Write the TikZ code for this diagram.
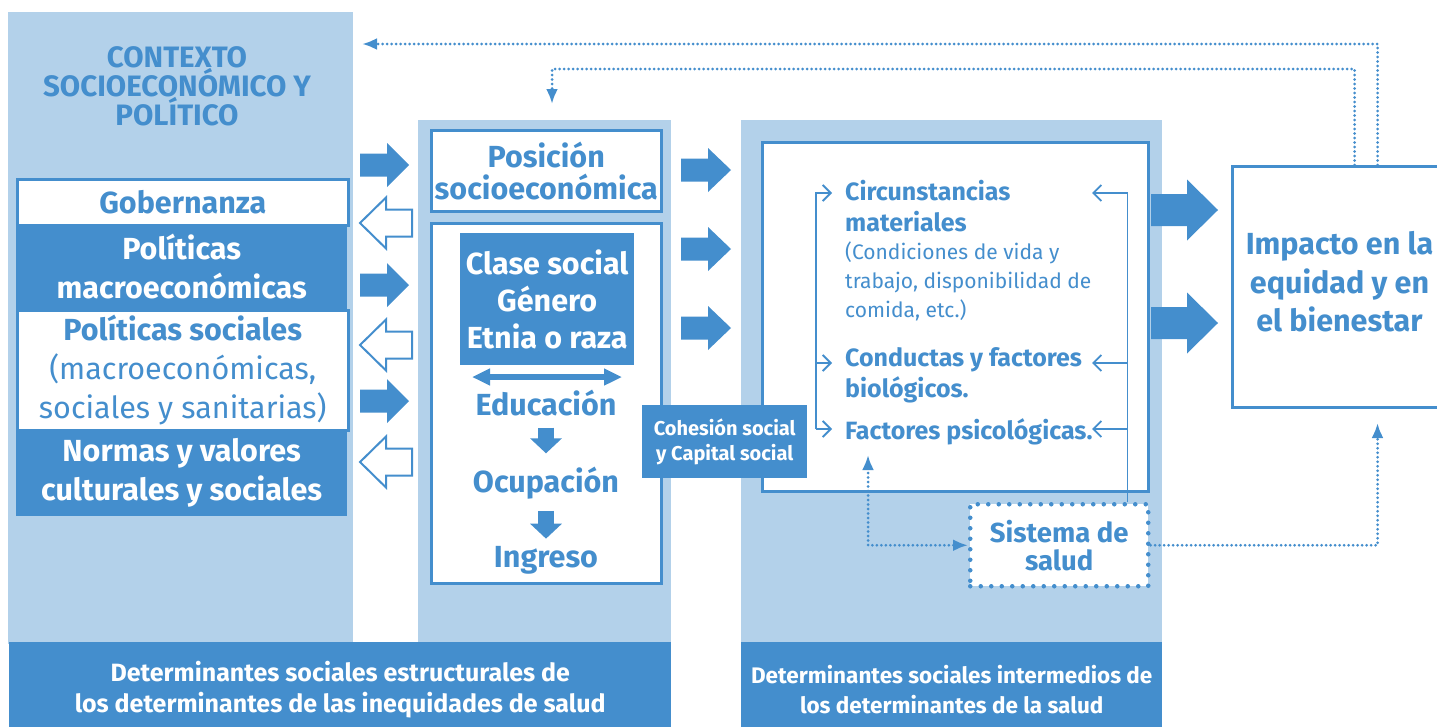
\documentclass[tikz,border=0pt]{standalone}
\usepackage{fontspec}
\setmainfont{Fira Sans}
\usetikzlibrary{arrows.meta}
\definecolor{dsblue}{RGB}{68,142,205}
\definecolor{dslight}{RGB}{179,209,234}
\begin{document}
\begin{tikzpicture}[x=1pt, y=-1pt, >={Latex[length=15pt,width=12pt]},
		panel/.style={fill=dslight, anchor=north west, inner sep=0},
		whitebox/.style={draw=dsblue, line width=2.5pt, fill=white, anchor=north west, inner sep=0},
		darkbox/.style={fill=dsblue, anchor=north west, inner sep=0},
		big/.style={font=\fontsize{30.5}{39}\selectfont\bfseries, text=dsblue, align=center, inner sep=0},
		mid/.style={font=\fontsize{25}{31}\selectfont\bfseries, text=dsblue, align=left, inner sep=0, anchor=north west},
		note/.style={font=\fontsize{21}{29}\selectfont, text=dsblue, align=left, inner sep=0, anchor=north west},
		foot/.style={font=\fontsize{25}{31}\selectfont\bfseries, text=white, align=center},
		fatdown/.style={draw=dsblue, line width=16pt, -{Triangle[length=15pt,width=31pt]}},
		smallarr/.style={draw=dsblue, line width=1.8pt, -{Straight Barb[length=8pt,width=16pt]}},
		dotline/.style={dsblue, line width=3pt, dash pattern=on 0pt off 4.5pt, line cap=round},
		salbox/.style={fill=white, draw=dsblue, line width=4.5pt, dash pattern=on 0pt off 10.5pt, line cap=round, anchor=north west, inner sep=0}]
	\useasboundingbox (0,0) rectangle (1437,726);
	\clip (0,0) rectangle (1437,726);

	\node[panel, minimum width=345pt, minimum height=632pt] (ctx) at (8,12) {};
	\node[panel, minimum width=253pt, minimum height=524pt] (estr) at (418,120) {};
	\node[panel, minimum width=421pt, minimum height=524pt] (inter) at (741,120) {};
	\node[darkbox, minimum width=662pt, minimum height=94pt, foot] (estrfoot) at (9,642) {Determinantes sociales estructurales de\\los determinantes de las inequidades de salud};
	\node[darkbox, minimum width=421pt, minimum height=94pt, foot, font=\fontsize{22.5}{30}\selectfont\bfseries] (interfoot) at (741,642) {Determinantes sociales intermedios de\\los determinantes de la salud};

	\node[big, font=\fontsize{29.5}{29}\selectfont\bfseries] (ctxtitle) at (177,86) {CONTEXTO\\SOCIOECONÓMICO Y\\POLÍTICO};
	\node[whitebox, minimum width=331pt, minimum height=46pt, big] (gob) at (16,178) {Gobernanza};
	\node[darkbox, minimum width=331pt, minimum height=85pt, big, text=white] (polmac) at (16,224) {Políticas\\macroeconómicas};
	\node[whitebox, minimum width=331pt, minimum height=120pt, big] (polsoc) at (16,309) {Políticas sociales\\{\mdseries (macroeconómicas,}\\{\mdseries sociales y sanitarias)}};
	\node[darkbox, minimum width=331pt, minimum height=87pt, big, text=white] (normas) at (16,429) {Normas y valores\\culturales y sociales};

	\foreach \y in {165,285,401}
		\fill[dsblue] (360,\y-11.5) -- (387,\y-11.5) -- (387,\y-22) -- (409,\y) -- (387,\y+22) -- (387,\y+11.5) -- (360,\y+11.5) -- cycle;
	\foreach \y in {223,345,462}
		\draw[dsblue, line width=2pt, fill=white] (412,\y-13.5) -- (386,\y-13.5) -- (386,\y-25.5) -- (360,\y) -- (386,\y+25.5) -- (386,\y+13.5) -- (412,\y+13.5) -- cycle;

	\node[whitebox, minimum width=230pt, minimum height=81pt, big, font=\fontsize{30.5}{32}\selectfont\bfseries] (pos) at (430,129) {Posición\\socioeconómica};
	\node[whitebox, minimum width=230pt, minimum height=360pt] (sep) at (430,222) {};
	\node[darkbox, minimum width=174pt, minimum height=132pt, big, font=\fontsize{30.5}{37}\selectfont\bfseries, text=white] (clase) at (460,233) {Clase social\\Género\\Etnia o raza};
	\coordinate (gl) at (472,377);
	\coordinate (gr) at (622,377);
	\draw[dsblue, line width=6pt, {Triangle[length=18pt,width=16pt]}-{Triangle[length=18pt,width=16pt]}] (gl) -- (gr);
	\node[big, anchor=base] (edu) at (546,415) {Educación};
	\node[big, anchor=base] (ocu) at (546,492) {Ocupación};
	\node[big, anchor=base] (ing) at (546,567) {Ingreso};
	\draw[fatdown, shorten <=12pt, shorten >=13pt] (edu.south) -- (ocu.north);
	\draw[fatdown, shorten <=12pt, shorten >=7pt] (ocu.south) -- (ing.north);

	\foreach \y in {170,249,328}
		\fill[dsblue] (681,\y-11.5) -- (708,\y-11.5) -- (708,\y-22) -- (731,\y) -- (708,\y+22) -- (708,\y+11.5) -- (681,\y+11.5) -- cycle;

	\node[whitebox, line width=3pt, minimum width=386pt, minimum height=349pt] (interbox) at (761,141) {};
	\node[darkbox, minimum width=165pt, minimum height=73pt, font=\fontsize{20}{25}\selectfont\bfseries, text=white, align=center] (coh) at (642,405) {Cohesión social\\y Capital social};
	\node[mid] (circ) at (845,180) {Circunstancias\\materiales};
	\node[note] (circnote) at (845,242) {(Condiciones de vida y\\trabajo, disponibilidad de\\comida, etc.)};
	\node[mid] (cond) at (845,347) {Conductas y factores\\biológicos.};
	\node[mid] (fac) at (845,418) {Factores psicológicas.};
	\coordinate (circin) at (832,193);
	\coordinate (condin) at (832,363);
	\coordinate (facin) at (832,429);
	\coordinate (circback) at (1092,193);
	\coordinate (condback) at (1092,363);
	\coordinate (facback) at (1092,429);
	\draw[smallarr] (816,429) |- (circin);
	\draw[smallarr] (816,363) -- (condin);
	\draw[smallarr] (816,429) -- (facin);

	\node[salbox, minimum width=178pt, minimum height=82pt, big, font=\fontsize{27.5}{28}\selectfont\bfseries] (sal) at (968,502) {Sistema de\\salud};
	\draw[smallarr] ([xshift=-23pt]sal.north east) |- (circback);
	\draw[smallarr] ([xshift=-23pt]sal.north east) |- (condback);
	\draw[smallarr] ([xshift=-23pt]sal.north east) |- (facback);

	\foreach \y in {210,323}
		\fill[dsblue] (1151,\y-16) -- (1187,\y-16) -- (1187,\y-30.5) -- (1218,\y) -- (1187,\y+30.5) -- (1187,\y+16) -- (1151,\y+16) -- cycle;
	\node[whitebox, line width=3pt, minimum width=214pt, minimum height=241pt] (imp) at (1231,165) {};
	\node[big, font=\fontsize{30.5}{38.5}\selectfont\bfseries] (imptext) at ([yshift=5pt]imp.center) {Impacto en la\\equidad y en\\el bienestar};

	\coordinate (facdot) at (868,455);
	\draw[dotline, <->] (facdot) |- (sal.west);
	\draw[dotline, ->] (sal.east) -| ([xshift=38pt,yshift=-14pt]imp.south);
	\coordinate (ctxback) at (362,44);
	\coordinate (posback) at (552,104);
	\draw[dotline, ->] ([xshift=38pt]imp.north) |- (ctxback);
	\draw[dotline, ->] ([xshift=15pt]imp.north) |- (552,69) -- (posback);
\end{tikzpicture}
\end{document}
